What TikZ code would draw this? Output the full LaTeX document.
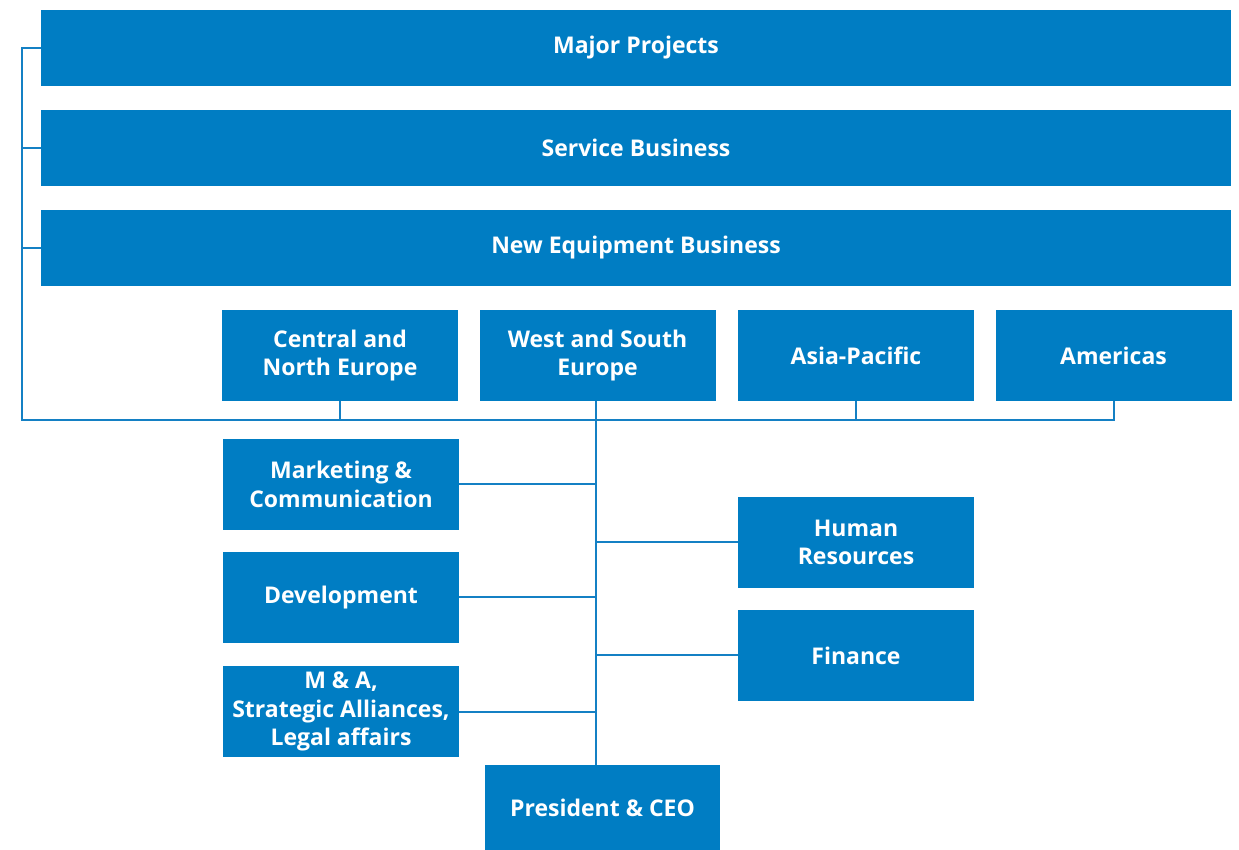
\documentclass[tikz,border=0pt]{standalone}
\usepackage{fontspec}
\setmainfont{Open Sans}
\definecolor{boxblue}{RGB}{0,125,195}
\definecolor{lineblue}{RGB}{20,128,196}
\begin{document}
\begin{tikzpicture}[x=0.5pt,y=-0.5pt,
  box/.style={fill=boxblue, draw=none, text=white, align=center, inner sep=0pt,
    font=\bfseries\fontsize{11.5}{14.2}\selectfont},
  wide/.style={box, minimum width=595pt, minimum height=38pt},
  unit/.style={box, minimum width=118pt, minimum height=45.5pt},
  conn/.style={draw=lineblue, line width=1pt}]
\useasboundingbox (0,0) rectangle (1239,850);
\node[wide] (mp) at (636,48) {Major Projects};
\node[wide] (sb) at (636,148) {Service Business};
\node[wide] (ne) at (636,248) {New Equipment Business};
\node[unit] (cn) at (340,355.5) {Central and\\North Europe};
\node[unit] (ws) at (597.5,355.5) {West and South\\Europe};
\node[unit] (ap) at (856,355.5) {Asia-Pacific};
\node[unit] (am) at (1113.5,355.5) {Americas};
\node[unit] (mk) at (341,484.5) {Marketing \&\\Communication};
\node[unit] (dv) at (341,597.5) {Development};
\node[unit] (ma) at (341,711.5) {M \& A,\\Strategic Alliances,\\Legal affairs};
\node[unit] (hr) at (856,542.5) {Human\\Resources};
\node[unit] (fi) at (856,655.5) {Finance};
\node[box, minimum width=117.5pt, minimum height=42.5pt] (ceo) at (602.5,807.5) {President \& CEO};
\coordinate (lc) at (22,420);
\coordinate (tr) at (596,420);
\draw[conn] (mp.west) -- (mp.west -| lc) -- (lc) -- (am.south |- lc) -- (am.south);
\draw[conn] (sb.west) -- (sb.west -| lc);
\draw[conn] (ne.west) -- (ne.west -| lc);
\draw[conn] (cn.south) -- (cn.south |- lc);
\draw[conn] (ap.south) -- (ap.south |- lc);
\draw[conn] (ws.south -| tr) -- (ceo.north -| tr);
\draw[conn] (mk.east) -- (mk.east -| tr);
\draw[conn] (dv.east) -- (dv.east -| tr);
\draw[conn] (ma.east) -- (ma.east -| tr);
\draw[conn] (hr.west) -- (hr.west -| tr);
\draw[conn] (fi.west) -- (fi.west -| tr);
\end{tikzpicture}
\end{document}
